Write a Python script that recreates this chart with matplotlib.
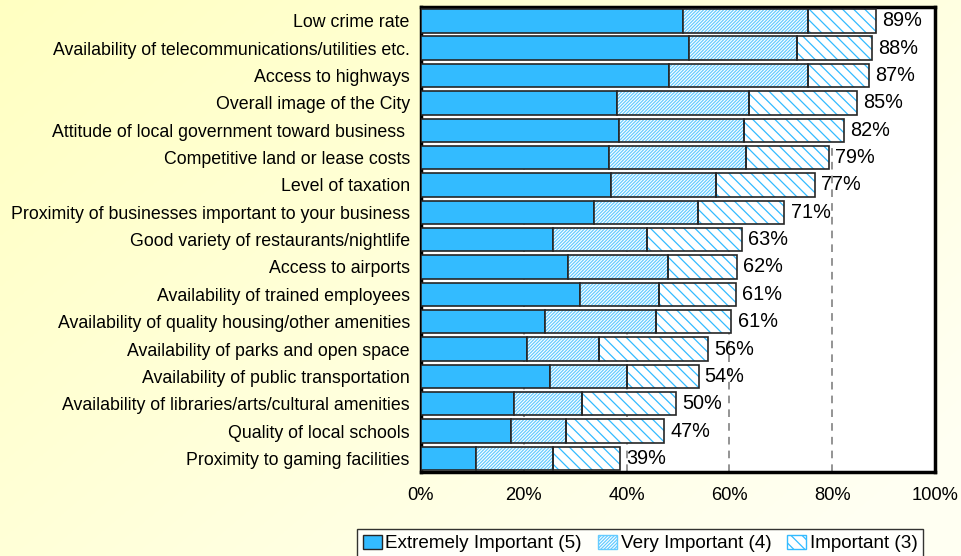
import numpy as np
import matplotlib
matplotlib.use('Agg')
import matplotlib.pyplot as plt
from matplotlib.patches import Patch

plt.rcParams['font.family'] = ['Liberation Sans', 'DejaVu Sans']
plt.rcParams['hatch.linewidth'] = 0.9

# survey factors, top to bottom
factors = [
    "Low crime rate",
    "Availability of telecommunications/utilities etc.",
    "Access to highways",
    "Overall image of the City",
    "Attitude of local government toward business ",
    "Competitive land or lease costs",
    "Level of taxation",
    "Proximity of businesses important to your business",
    "Good variety of restaurants/nightlife",
    "Access to airports",
    "Availability of trained employees",
    "Availability of quality housing/other amenities",
    "Availability of parks and open space",
    "Availability of public transportation",
    "Availability of libraries/arts/cultural amenities",
    "Quality of local schools",
    "Proximity to gaming facilities",
]
extremely = [50.9, 52.1, 48.3, 38.2, 38.5, 36.6, 37.0, 33.6, 25.6, 28.7, 30.9, 24.2, 20.6, 25.1, 18.2, 17.5, 10.8]
very = [24.3, 21.1, 26.9, 25.7, 24.4, 26.6, 20.4, 20.2, 18.4, 19.4, 15.5, 21.5, 14.0, 15.0, 13.1, 10.8, 14.9]
important = [13.3, 14.5, 12.0, 20.9, 19.4, 16.1, 19.3, 16.9, 18.4, 13.3, 14.9, 14.7, 21.2, 13.9, 18.3, 19.0, 13.1]
total_labels = ["89%", "88%", "87%", "85%", "82%", "79%", "77%", "71%", "63%",
                "62%", "61%", "61%", "56%", "54%", "50%", "47%", "39%"]
xticks = [0, 20, 40, 60, 80, 100]

BLUE = '#33BBFF'
HATCH_BLUE = '#66CCFF'
EDGE = '#262626'
VH = '/' * 10
IH = '\\' * 3

fig = plt.figure(figsize=(9.61, 5.56), dpi=100)

# pale yellow gradient background
bg = fig.add_axes([0, 0, 1, 1], zorder=-10)
gx, gy = np.meshgrid(np.linspace(0, 1, 200), np.linspace(0, 1, 200))
t = np.clip(0.65 * gx + 0.45 * gy, 0, 1)
c0 = np.array([1.0, 1.0, 0.76])
c1 = np.array([1.0, 1.0, 0.95])
img = c0[None, None, :] * (1 - t[..., None]) + c1[None, None, :] * t[..., None]
bg.imshow(img, aspect='auto', extent=[0, 1, 0, 1], origin='upper')
bg.axis('off')

ax = fig.add_axes([0.438, 0.151, 0.535, 0.836])
ax.set_facecolor('white')

y = np.arange(len(factors))
ext = np.array(extremely)
ver = np.array(very)
imp = np.array(important)
h = 0.86

ax.barh(y, ext, height=h, color=BLUE, edgecolor=EDGE, linewidth=1.2, zorder=3)
ax.barh(y, ver, left=ext, height=h, color='white', edgecolor=HATCH_BLUE,
        hatch=VH, linewidth=0, zorder=3)
ax.barh(y, ver, left=ext, height=h, fill=False, edgecolor=EDGE, linewidth=1.2, zorder=4)
ax.barh(y, imp, left=ext + ver, height=h, color='white', edgecolor=BLUE,
        hatch=IH, linewidth=0, zorder=3)
ax.barh(y, imp, left=ext + ver, height=h, fill=False, edgecolor=EDGE, linewidth=1.2, zorder=4)

tot = ext + ver + imp
for yi, xi, lab in zip(y, tot, total_labels):
    ax.text(xi + 1.2, yi, lab, va='center', ha='left', fontsize=14.3, zorder=5)

ax.set_xlim(0, 100)
ax.set_ylim(len(factors) - 0.5, -0.5)
ax.set_xticks(xticks)
ax.set_xticklabels([f"{v}%" for v in xticks], fontsize=13.2)
ax.set_yticks(y)
ax.set_yticklabels(factors, fontsize=12.8)
ax.tick_params(axis='both', length=0)
ax.tick_params(axis='x', pad=11)
ax.tick_params(axis='y', pad=8)
for v in xticks[1:-1]:
    ax.axvline(v, color='#777777', linestyle=(0, (5, 4)), linewidth=1.1, zorder=1)
for s in ax.spines.values():
    s.set_linewidth(2.5)
    s.set_color('black')

handles = [
    Patch(facecolor=BLUE, edgecolor=EDGE, label='Extremely Important (5)'),
    Patch(facecolor='white', edgecolor=HATCH_BLUE, hatch=VH, label='Very Important (4)'),
    Patch(facecolor='white', edgecolor=BLUE, hatch=IH, label='Important (3)'),
]
leg = fig.legend(handles=handles, loc='upper left', bbox_to_anchor=(357 / 961, 1 - 529 / 556),
                 ncol=3, fontsize=13.6, frameon=True, fancybox=False, borderpad=0.3,
                 handlelength=1.0, handleheight=0.75, handletextpad=0.2, columnspacing=0.85,
                 borderaxespad=0)
leg.get_frame().set_edgecolor('black')
leg.get_frame().set_linewidth(1.0)
leg.get_frame().set_facecolor('white')

fig.savefig('out.png', dpi=100)
plt.close(fig)
